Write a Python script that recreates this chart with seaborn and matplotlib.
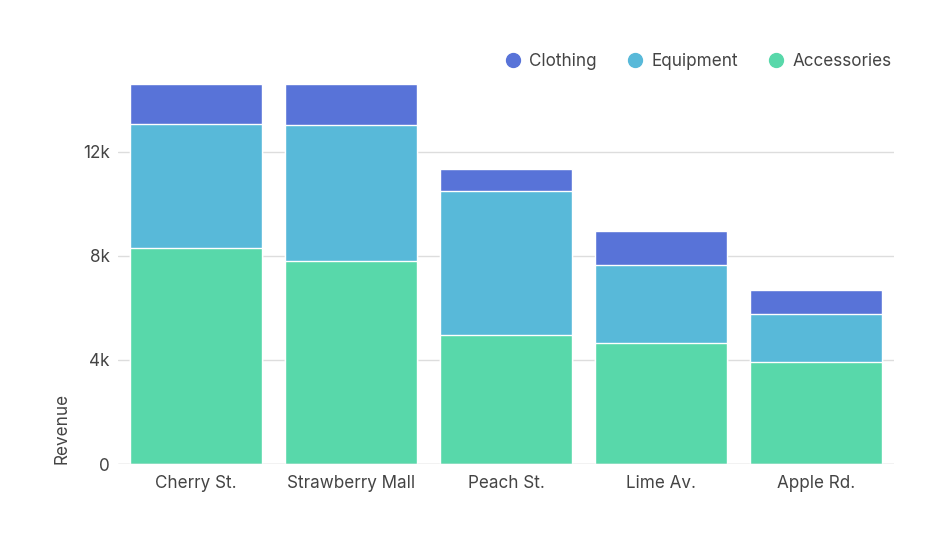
import matplotlib
matplotlib.use("Agg")
import matplotlib.pyplot as plt
from matplotlib.lines import Line2D
import numpy as np
import pandas as pd
import seaborn as sns

stores = ["Cherry St.", "Strawberry Mall", "Peach St.", "Lime Av.", "Apple Rd."]
accessories = [8300, 7800, 4960, 4650, 3920]
equipment = [4770, 5240, 5540, 3000, 1850]
clothing = [1530, 1560, 850, 1310, 920]

colors = {"Clothing": "#5873d8", "Equipment": "#58b9d9", "Accessories": "#58d8aa"}

sns.set_theme(style="white")
plt.rcParams["font.family"] = ["Inter", "DejaVu Sans"]

df = pd.DataFrame({"store": stores, "Accessories": accessories,
                   "Equipment": equipment, "Clothing": clothing})
df["lvl1"] = df["Accessories"]
df["lvl2"] = df["lvl1"] + df["Equipment"]
df["lvl3"] = df["lvl2"] + df["Clothing"]

fig = plt.figure(figsize=(9.47, 5.45), dpi=100)
ax = fig.add_axes([0.1246, 0.1486, 0.8194, 0.6973])

# draw from tallest stack down so each layer covers the one above it
sns.barplot(data=df, x="store", y="lvl3", color=colors["Clothing"], width=0.85,
            saturation=1, ax=ax, zorder=3)
sns.barplot(data=df, x="store", y="lvl2", color=colors["Equipment"], width=0.85,
            saturation=1, ax=ax, zorder=3)
sns.barplot(data=df, x="store", y="lvl1", color=colors["Accessories"], width=0.85,
            saturation=1, ax=ax, zorder=3)

ax.set_xlim(-0.5, 4.5)
ax.set_ylim(0, df["lvl3"].max())
ax.set_yticks([0, 4000, 8000, 12000])
ax.set_yticklabels(["0", "4k", "8k", "12k"])
ax.yaxis.grid(True, color="#dddddd", linewidth=1, zorder=0)
for s in ax.spines.values():
    s.set_visible(False)
ax.axhline(0, color="#dddddd", linewidth=1, zorder=4)

ax.tick_params(axis="y", length=0, labelsize=12.3, labelcolor="#444444", pad=6)
ax.tick_params(axis="x", length=0, labelsize=12.3, labelcolor="#444444", pad=8)
ax.set_xlabel("")
ax.set_ylabel("Revenue", loc="bottom", fontsize=12.3, color="#444444", labelpad=9)

handles = [Line2D([0], [0], marker="o", linestyle="", markersize=10,
                  markerfacecolor=colors[k], markeredgecolor=colors[k], label=k)
           for k in ["Clothing", "Equipment", "Accessories"]]
ax.legend(handles=handles, loc="lower right", bbox_to_anchor=(1.006, 1.02), ncol=3,
          frameon=False, fontsize=12.3, labelcolor="#444444", handletextpad=0.15,
          handlelength=1.6, columnspacing=1.45, borderaxespad=0)

fig.savefig("out.png", dpi=100)
